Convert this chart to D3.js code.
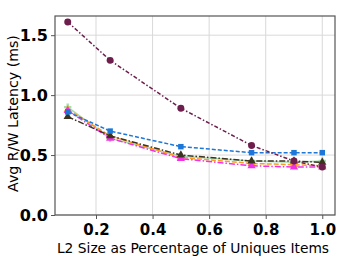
<!DOCTYPE html>
<html>
<head>
<meta charset="utf-8">
<script src="https://cdn.jsdelivr.net/npm/d3@7"></script>
<style>
  body { margin: 0; background: #fff; }
  svg text { font-family: "DejaVu Sans", sans-serif; }
</style>
</head>
<body>
<svg id="chart" width="355" height="275"></svg>
<script>
// chart data
const xValues = [0.1, 0.25, 0.5, 0.75, 0.9, 1.0];
const xTicks = [0.2, 0.4, 0.6, 0.8, 1.0];
const yTicks = [0.0, 0.5, 1.0, 1.5];
const maroonSeries = [1.61, 1.29, 0.89, 0.58, 0.45, 0.40];
const blueSeries = [0.86, 0.70, 0.57, 0.52, 0.52, 0.52];
const darkSeries = [0.82, 0.66, 0.50, 0.45, 0.45, 0.44];
const greenSeries = [0.90, 0.64, 0.49, 0.45, 0.44, 0.45];
const orangeSeries = [0.88, 0.66, 0.48, 0.43, 0.42, 0.41];
const magentaSeries = [0.87, 0.64, 0.47, 0.41, 0.40, 0.40];
const xLabel = 'L2 Size as Percentage of Uniques Items';
const yLabel = 'Avg R/W Latency (ms)';

const series = [
  { values: greenSeries, color: '#a6dfae', dash: null, marker: d3.symbolCross },
  { values: orangeSeries, color: '#ff9b21', dash: '5,2', marker: d3.symbolTriangle },
  { values: magentaSeries, color: '#f032e6', dash: '6,2,1.5,2', marker: d3.symbolTriangle },
  { values: darkSeries, color: '#3b3320', dash: '6,2,1.5,2', marker: d3.symbolTriangle },
  { values: blueSeries, color: '#1c77d8', dash: '4,2', marker: d3.symbolSquare },
  { values: maroonSeries, color: '#6e1e4c', dash: '4,2,1.5,2', marker: d3.symbolCircle }
];

const margin = { left: 55, right: 20, top: 16, bottom: 60 };
const width = 355 - margin.left - margin.right;
const height = 275 - margin.top - margin.bottom;

const svg = d3.select('#chart');
const g = svg.append('g')
  .attr('transform', 'translate(' + margin.left + ',' + margin.top + ')');

const x = d3.scaleLinear().domain([0.055, 1.045]).range([0, width]);
const y = d3.scaleLinear().domain([0, 1.66]).range([height, 0]);

// grid lines
g.append('g')
  .selectAll('line')
  .data(xTicks)
  .enter()
  .append('line')
  .attr('x1', (d) => x(d))
  .attr('x2', (d) => x(d))
  .attr('y1', 0)
  .attr('y2', height)
  .attr('stroke', '#d9d9d9')
  .attr('stroke-width', 1);
g.append('g')
  .selectAll('line')
  .data(yTicks)
  .enter()
  .append('line')
  .attr('x1', 0)
  .attr('x2', width)
  .attr('y1', (d) => y(d))
  .attr('y2', (d) => y(d))
  .attr('stroke', '#d9d9d9')
  .attr('stroke-width', 1);

// axes
const xAxis = g.append('g')
  .attr('transform', 'translate(0,' + height + ')')
  .call(d3.axisBottom(x).tickValues(xTicks).tickFormat(d3.format('.1f')).tickSize(4));
const yAxis = g.append('g')
  .call(d3.axisLeft(y).tickValues(yTicks).tickFormat(d3.format('.1f')).tickSize(4));
[xAxis, yAxis].forEach((a) => {
  a.select('.domain').remove();
  a.selectAll('line').attr('stroke', '#555');
  a.selectAll('text')
    .style('font-size', '15px')
    .style('font-weight', 'bold')
    .attr('fill', '#000');
});
xAxis.selectAll('text').attr('dy', '1em').attr('y', 5);
yAxis.selectAll('text').attr('x', -7).style('font-size', '16px');

// frame
g.append('rect')
  .attr('x', 0)
  .attr('y', 0)
  .attr('width', width)
  .attr('height', height)
  .attr('fill', 'none')
  .attr('stroke', '#555')
  .attr('stroke-width', 1.2);

// lines and markers
const line = d3.line()
  .x((d, i) => x(xValues[i]))
  .y((d) => y(d));

series.forEach((s) => {
  g.append('path')
    .datum(s.values)
    .attr('d', line)
    .attr('fill', 'none')
    .attr('stroke', s.color)
    .attr('stroke-width', 1.5)
    .attr('stroke-dasharray', s.dash);
  g.append('g')
    .selectAll('path')
    .data(s.values)
    .enter()
    .append('path')
    .attr('d', d3.symbol().type(s.marker).size(s.marker === d3.symbolCircle ? 38 : 30))
    .attr('transform', (d, i) => 'translate(' + x(xValues[i]) + ',' + y(d) + ')')
    .attr('fill', s.color);
});

// axis labels
svg.append('text')
  .attr('x', margin.left + width / 2 - 2)
  .attr('y', 253)
  .attr('text-anchor', 'middle')
  .style('font-size', '13.8px')
  .text(xLabel);
svg.append('text')
  .attr('transform', 'translate(18,' + (margin.top + height / 2 - 2) + ') rotate(-90)')
  .attr('text-anchor', 'middle')
  .style('font-size', '14.2px')
  .text(yLabel);
</script>
</body>
</html>
